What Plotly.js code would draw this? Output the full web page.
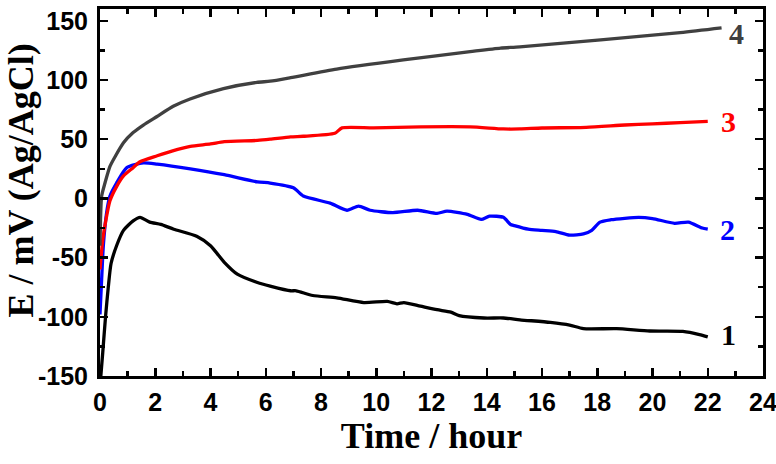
<!DOCTYPE html>
<html>
<head>
<meta charset="utf-8">
<script src="https://cdn.plot.ly/plotly-3.0.1.min.js"></script>
<style>html,body{margin:0;padding:0;background:#fff;}#chart{width:776px;height:464px;}</style>
</head>
<body>
<div id="chart"></div>
<script>
// Curve 1 (black)
const t1 = [0.03,0.1,0.2,0.3,0.4,0.6,0.85,1.2,1.45,1.8,2.2,2.67,3.5,4.0,4.5,4.97,5.7,6.16,6.9,7.1,7.7,8.57,9.55,10.4,10.75,11.0,11.6,12.2,12.7,13.0,13.9,14.6,15.2,16.3,17.0,17.5,18.7,19.9,21.1,21.7,22.0];
const e1 = [-150,-130,-100,-75,-55,-40,-27,-19,-16,-20,-22,-26,-32,-40,-54,-64,-71,-74,-78,-78,-82,-84,-88,-87,-89,-88,-91,-94,-96,-99,-101,-101,-102.5,-104.7,-107,-110,-110,-112,-112.3,-115,-117];
// Curve 2 (blue)
const t2 = [0,0.06,0.12,0.24,0.36,0.6,0.97,1.57,2.07,3.27,4.5,5.7,6.16,7.0,7.36,8.33,8.94,9.36,9.78,10.6,11.5,12.2,12.56,13.3,13.8,14.1,14.6,14.86,15.0,15.5,16.0,16.5,17.0,17.5,17.8,18.1,18.5,19.5,20.0,20.8,21.3,21.8,22.0];
const e2 = [-98,-68,-40,-12,2,13,26,30,29,25,20,14,13,9,2,-4,-10,-6.5,-10,-12,-10,-12.6,-10.7,-13.5,-17.7,-15,-16,-22,-23,-26,-27,-28,-31,-30,-27,-20,-18,-16,-17,-21,-20,-25,-26];
// Curve 3 (red)
const t3 = [0,0.1,0.2,0.36,0.6,0.85,1.2,1.45,2.07,2.6,3.27,4.0,4.5,5.7,6.16,6.9,7.36,8.5,8.76,9.9,11.6,13.4,14.6,15.2,16.0,17.6,19.0,20.0,21.0,22.0];
const e3 = [-60,-35,-20,-2,10,19,26,31,36,40,44,46,48,49,50,52,52.5,55,59.6,59.6,60.4,60.4,58.7,58.7,59.5,60,62,63,64,65];
// Curve 4 (gray)
const t4 = [0,0.06,0.18,0.36,0.54,0.85,1.2,1.57,2.05,2.65,3.26,4.47,5.68,6.16,6.9,8.57,10.98,13.4,14.5,15.2,21.0,22.5];
const e4 = [-40,2,13,27,35,47,55.6,62,69,77.8,84,92.7,98,99,102,109.3,117,124,127,128,140,144];

const xTicks = [0,2,4,6,8,10,12,14,16,18,20,22,24];
const yTicks = [-150,-100,-50,0,50,100,150];
const yTickText = ["-150","-100","-50","0","50","100","150"];
const curveLabels = ["1","2","3","4"];
const labelT = [22.75,22.7,22.75,23.05];
const labelE = [-115,-26,65,139];

const colors = ["#000000","#0000ff","#ff0000","#404040"];
const xs = [t1,t2,t3,t4], ys = [e1,e2,e3,e4];

const traces = xs.map((x,i)=>({x:x, y:ys[i], type:'scatter', mode:'lines', line:{color:colors[i], width:3.3, shape:'spline', smoothing:0.6}, hoverinfo:'skip'}));

const tickFont = {family:'"Liberation Sans", Arial, sans-serif', size:25, color:'#000', weight:'bold'};
const titleFont = {family:'"Liberation Serif", "Times New Roman", serif', size:36, color:'#000', weight:'bold'};

const annotations = curveLabels.map((s,i)=>({x:labelT[i], y:labelE[i], xref:'x', yref:'y', text:s, showarrow:false, font:{family:'"Liberation Serif", "Times New Roman", serif', size:30, color:colors[i], weight:'bold'}}));
annotations.push({xref:'paper', yref:'paper', x:0, y:0.5, xanchor:'right', yanchor:'middle', xshift:-58, yshift:12, textangle:-90, text:'E / mV (Ag/AgCl)', showarrow:false, font:titleFont});

const layout = {
  width:776, height:464,
  margin:{l:100, r:13, t:9, b:88},
  paper_bgcolor:'#fff', plot_bgcolor:'#fff',
  showlegend:false,
  xaxis:{range:[0,24], tickvals:xTicks, ticks:'inside', ticklen:8, tickwidth:2.5, tickcolor:'#000',
    minor:{dtick:1, ticks:'inside', ticklen:5, tickwidth:2.5, tickcolor:'#000', showgrid:false},
    showline:true, linewidth:3, linecolor:'#000', mirror:'ticks', showgrid:false, zeroline:false,
    tickfont:tickFont, ticklabelstandoff:2, ticklabeloverflow:'allow',
    title:{text:'Time / hour', font:titleFont, standoff:2}},
  yaxis:{range:[-150,160], tickvals:yTicks, ticktext:yTickText, ticks:'inside', ticklen:8, tickwidth:2.5, tickcolor:'#000',
    minor:{dtick:25, ticks:'inside', ticklen:5, tickwidth:2.5, tickcolor:'#000', showgrid:false},
    showline:true, linewidth:3, linecolor:'#000', mirror:'ticks', showgrid:false, zeroline:false,
    tickfont:tickFont, ticklabelstandoff:4},
  annotations:annotations
};
Plotly.newPlot('chart', traces, layout, {staticPlot:true, displayModeBar:false});
</script>
</body>
</html>
